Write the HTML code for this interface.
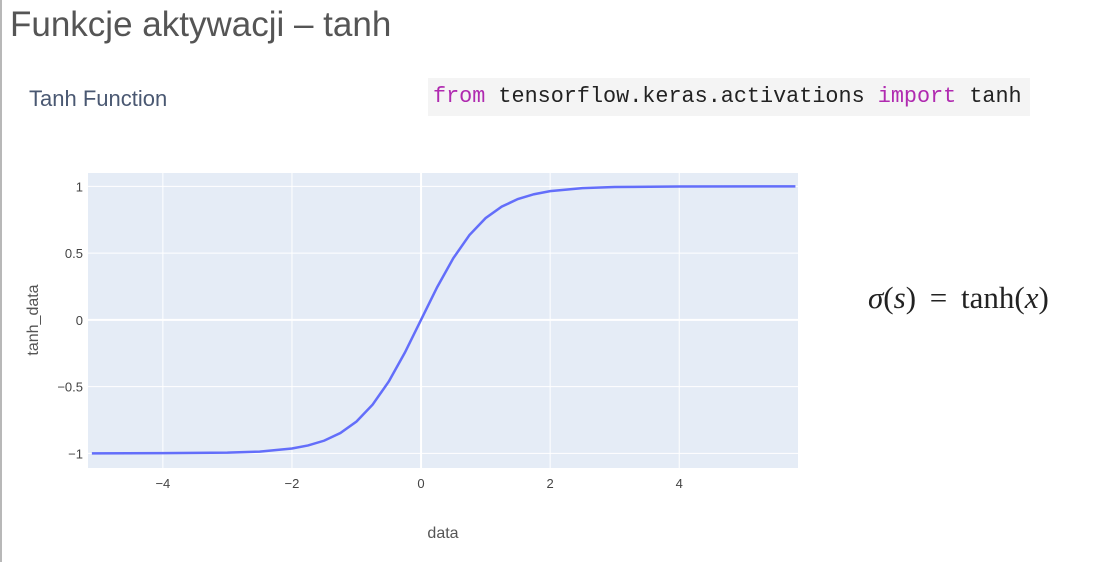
<!DOCTYPE html>
<html><head><meta charset="utf-8"><style>
body{margin:0;width:1117px;height:562px;background:#fff;overflow:hidden;position:relative;font-family:"Liberation Sans",sans-serif}
.abs{position:absolute}
</style></head><body>
<div class="abs" style="left:0;top:0;width:2px;height:562px;background:#b8b8b8"></div>
<div class="abs" style="left:10px;top:5px;font-size:35px;color:#555">Funkcje aktywacji – tanh</div>
<div class="abs" style="left:29px;top:86px;font-size:22px;color:#4a5872">Tanh Function</div>
<div class="abs" style="left:428px;top:78px;width:602px;height:38px;background:#f4f4f4;font-family:'Liberation Mono',monospace;font-size:21.8px;line-height:38px;padding-left:5px;box-sizing:border-box;color:#222;white-space:nowrap"><span style="color:#b02ab0">from</span> tensorflow.keras.activations <span style="color:#b02ab0">import</span> tanh</div>
<div class="abs" style="left:868px;top:280px;font-family:'Liberation Serif',serif;font-size:31px;word-spacing:6px;color:#222;white-space:nowrap"><i>σ</i>(<i>s</i>) = tanh(<i>x</i>)</div>
<svg class="abs" style="left:0;top:0" width="1117" height="562" id="chart"></svg>
<script>
const xVals=[-5.1,-4,-3,-2.5,-2,-1.75,-1.5,-1.25,-1,-0.75,-0.5,-0.25,0,0.25,0.5,0.75,1,1.25,1.5,1.75,2,2.5,3,4,5.8];
const yVals=[-1,-0.999,-0.995,-0.987,-0.964,-0.941,-0.905,-0.848,-0.762,-0.635,-0.462,-0.245,0,0.245,0.462,0.635,0.762,0.848,0.905,0.941,0.964,0.987,0.995,0.999,1];
const xTicks=[-4,-2,0,2,4];
const yTicks=[-1,-0.5,0,0.5,1];
const yTickLabels=["−1","−0.5","0","0.5","1"];
const xTickLabels=["−4","−2","0","2","4"];
const L=88,R=798,T=173,B=468;
const xMin=-5.16,xMax=5.84,yMin=-1.11,yMax=1.1;
const X=v=>L+(v-xMin)/(xMax-xMin)*(R-L);
const Y=v=>B-(v-yMin)/(yMax-yMin)*(B-T);
const svg=document.getElementById('chart');
const NS='http://www.w3.org/2000/svg';
function mk(t,a){const e=document.createElementNS(NS,t);for(const k in a)e.setAttribute(k,a[k]);svg.appendChild(e);return e;}
let bg=mk('rect',{x:L,y:T,width:R-L,height:B-T,fill:'#e5ecf6'});


xTicks.forEach((t,i)=>{
 let g=mk('line',{x1:X(t),x2:X(t),y1:T,y2:B,stroke:'#fff','stroke-width':t===0?2:1});
 
 
 let l=mk('text',{x:X(t),y:B+20,'text-anchor':'middle','font-size':13,fill:'#444'});l.textContent=xTickLabels[i];
 
 
});
yTicks.forEach((t,i)=>{
 let g=mk('line',{x1:L,x2:R,y1:Y(t),y2:Y(t),stroke:'#fff','stroke-width':t===0?2:1});
 
 
 let l=mk('text',{x:L-5,y:Y(t)+5,'text-anchor':'end','font-size':13,fill:'#444'});l.textContent=yTickLabels[i];
 
 
});
let p=mk('polyline',{points:xVals.map((x,i)=>X(x)+','+Y(yVals[i])).join(' '),fill:'none',stroke:'#636efa','stroke-width':2.5});


let xt=mk('text',{x:443,y:538,'text-anchor':'middle','font-size':16,fill:'#555'});xt.textContent='data';


let yt=mk('text',{x:0,y:0,'text-anchor':'middle','font-size':16,fill:'#555',transform:'translate(38,320) rotate(-90)'});yt.textContent='tanh_data';


</script>
</body></html>
